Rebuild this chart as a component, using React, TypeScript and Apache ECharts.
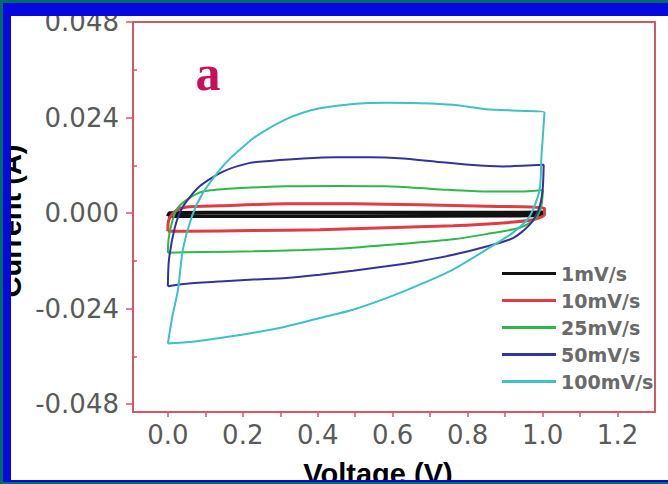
import React, { useEffect, useRef } from "react";
import * as echarts from "echarts";

// Scan rates (legend) and colours
const scanRates = ["1mV/s", "10mV/s", "25mV/s", "50mV/s", "100mV/s"];
const rateColors = ["#111111", "#e03c44", "#2eb84a", "#35329c", "#3cc2c4"];
const lineWidths = [3.5, 3, 2, 2, 2];

// Tick values
const xTickLabels = [0, 0.2, 0.4, 0.6, 0.8, 1.0, 1.2];
const xTickMarks = [0, 0.1, 0.2, 0.3, 0.4, 0.5, 0.6, 0.7, 0.8, 0.9, 1.0, 1.1, 1.2];
const yTickLabels = [-0.048, -0.024, 0, 0.024, 0.048];
const yMinorTicks = [-0.036, -0.012, 0.012, 0.036];

// 1 mV/s
const v1 = [0.0, 0.005, 0.1, 0.5, 0.9, 1.0, 1.0, 0.9, 0.5, 0.1, 0.0, 0.0];
const i1 = [-0.0008, 0.0, 0.0001, 0.0001, 0.0001, 0.0002, -0.0004, -0.0007, -0.0008, -0.0008, -0.0008, -0.0008];

// 10 mV/s
const v10 = [0.0, 0.002, 0.019, 0.05, 0.139, 0.316, 0.494, 0.672, 0.85, 1.005, 1.005, 0.974, 0.894, 0.761, 0.583, 0.405, 0.228, 0.05, 0.0];
const i10 = [-0.0046, -0.0019, 0.0004, 0.0015, 0.0018, 0.0023, 0.0023, 0.0021, 0.0017, 0.0012, -0.0004, -0.0017, -0.0025, -0.0032, -0.0037, -0.0042, -0.0044, -0.0046, -0.0046];

// 25 mV/s
const v25 = [0.0, 0.002, 0.01, 0.023, 0.05, 0.094, 0.183, 0.316, 0.45, 0.583, 0.716, 0.85, 0.939, 1.001, 0.996, 0.979, 0.939, 0.85, 0.761, 0.628, 0.494, 0.361, 0.228, 0.094, 0.0];
const i25 = [-0.01, -0.0065, -0.0027, 0.0008, 0.0033, 0.0054, 0.0062, 0.0067, 0.0068, 0.0067, 0.006, 0.0054, 0.0054, 0.0058, 0.0015, -0.0016, -0.0037, -0.0053, -0.0066, -0.0077, -0.0087, -0.0093, -0.0096, -0.0098, -0.01];

// 50 mV/s
const v50 = [0.0, 0.003, 0.019, 0.04, 0.085, 0.147, 0.219, 0.272, 0.361, 0.45, 0.539, 0.628, 0.716, 0.805, 0.894, 1.003, 1.0, 0.99, 0.965, 0.921, 0.85, 0.761, 0.672, 0.583, 0.494, 0.405, 0.316, 0.228, 0.139, 0.05, 0.0];
const i50 = [-0.0184, -0.0117, -0.0035, 0.0016, 0.0067, 0.0104, 0.0126, 0.0131, 0.0137, 0.014, 0.014, 0.0137, 0.0129, 0.0121, 0.0117, 0.0121, 0.0057, 0.001, -0.003, -0.0063, -0.0084, -0.0105, -0.0121, -0.0134, -0.0145, -0.0155, -0.0163, -0.0167, -0.0172, -0.0178, -0.0184];

// 100 mV/s
const v100 = [0.0, 0.012, 0.027, 0.04, 0.064, 0.093, 0.139, 0.165, 0.192, 0.228, 0.272, 0.316, 0.36, 0.405, 0.494, 0.583, 0.672, 0.761, 0.85, 0.939, 1.005, 0.997, 0.992, 0.965, 0.92, 0.85, 0.761, 0.672, 0.583, 0.494, 0.405, 0.316, 0.228, 0.139, 0.05, 0.0];
const i100 = [-0.0328, -0.026, -0.0193, -0.0092, -0.0009, 0.005, 0.0109, 0.0136, 0.0159, 0.0188, 0.0214, 0.0236, 0.0252, 0.0263, 0.0274, 0.0277, 0.0276, 0.0272, 0.0261, 0.0257, 0.0253, 0.0142, 0.0058, -0.0009, -0.005, -0.0092, -0.0142, -0.018, -0.0214, -0.0243, -0.0264, -0.0285, -0.0301, -0.0314, -0.0325, -0.0328];

const voltages = [v1, v10, v25, v50, v100];
const currents = [i1, i10, i25, i50, i100];

const axisRed = "#d4566a";
const labelGray = "#5a5a5a";

export default function App() {
  const ref = useRef<HTMLDivElement>(null);

  useEffect(() => {
    if (!ref.current) return;
    const chart = echarts.init(ref.current, undefined, { renderer: "svg" });

    const series = scanRates.map((name, k) => ({
      name,
      type: "line",
      data: voltages[k].map((v, j) => [v, currents[k][j]]),
      showSymbol: false,
      symbol: "none",
      smooth: 0.25,
      lineStyle: { color: rateColors[k], width: lineWidths[k] },
      itemStyle: { color: rateColors[k] },
      z: 2 + k,
    }));

    const frame = (x: number, y: number, w: number, h: number, fill: string) => ({
      type: "rect",
      shape: { x, y, width: w, height: h },
      style: { fill },
      z: 100,
      silent: true,
    });

    chart.setOption({
      animation: false,
      backgroundColor: "#ffffff",
      grid: {
        left: 133,
        right: 13,
        top: 22,
        bottom: 72,
        show: true,
        borderColor: axisRed,
        borderWidth: 2,
        backgroundColor: "transparent",
      },
      legend: {
        data: scanRates,
        orient: "vertical",
        left: 497,
        top: 259,
        itemGap: 8,
        icon: "rect",
        itemWidth: 54,
        itemHeight: 3,
        textStyle: {
          color: "#6a6a6a",
          fontWeight: "bold",
          fontSize: 19,
          fontFamily: "DejaVu Sans",
        },
      },
      xAxis: {
        type: "value",
        min: -0.093,
        max: 1.3,
        axisLine: { show: true, onZero: false, lineStyle: { color: axisRed, width: 2 } },
        axisTick: {
          show: true,
          inside: false,
          length: 5,
          customValues: xTickMarks,
          lineStyle: { color: axisRed, width: 1.5 },
        },
        axisLabel: {
          customValues: xTickLabels,
          formatter: (v: number) => v.toFixed(1),
          color: labelGray,
          fontSize: 26,
          fontFamily: "DejaVu Sans",
          margin: 10,
        },
        splitLine: { show: false },
      },
      yAxis: [
        {
          type: "value",
          min: -0.05,
          max: 0.048,
          axisLine: { show: true, onZero: false, lineStyle: { color: axisRed, width: 2 } },
          axisTick: {
            show: true,
            inside: false,
            length: 7,
            customValues: yTickLabels,
            lineStyle: { color: axisRed, width: 1.5 },
          },
          axisLabel: {
            customValues: yTickLabels,
            formatter: (v: number) => v.toFixed(3),
            color: labelGray,
            fontSize: 26,
            fontFamily: "DejaVu Sans",
            margin: 14,
          },
          splitLine: { show: false },
        },
        {
          type: "value",
          min: -0.05,
          max: 0.048,
          position: "left",
          axisLine: { show: false, onZero: false },
          axisTick: {
            show: true,
            inside: true,
            length: 4,
            customValues: yMinorTicks,
            lineStyle: { color: axisRed, width: 1.5 },
          },
          axisLabel: { show: false },
          splitLine: { show: false },
        },
      ],
      series,
      graphic: [
        {
          type: "text",
          x: 208,
          y: 73,
          z: 50,
          style: {
            text: "a",
            font: 'bold 50px "Liberation Serif"',
            fill: "#c8105a",
            align: "center",
            verticalAlign: "middle",
            textAlign: "center",
            textVerticalAlign: "middle",
          },
        },
        {
          type: "text",
          x: 25,
          y: 221,
          rotation: Math.PI / 2,
          z: 50,
          style: {
            text: "Current (A)",
            font: 'bold 29px "Liberation Sans"',
            fill: "#000000",
            align: "center",
            verticalAlign: "bottom",
            textAlign: "center",
            textVerticalAlign: "bottom",
          },
        },
        {
          type: "text",
          x: 378,
          y: 474,
          z: 50,
          style: {
            text: "Voltage (V)",
            font: 'bold 29px "Liberation Sans"',
            fill: "#000000",
            align: "center",
            verticalAlign: "middle",
            textAlign: "center",
            textVerticalAlign: "middle",
          },
        },
        frame(0, 0, 668, 16, "#0707e0"),
        frame(0, 0, 11, 484, "#0707e0"),
        frame(0, 480, 668, 4, "#0707e0"),
        frame(0, 0, 668, 3, "#006a6a"),
        frame(0, 0, 3, 484, "#006a6a"),
        frame(0, 482, 668, 2, "#006a6a"),
      ],
    });

    return () => chart.dispose();
  }, []);

  return (
    <div
      ref={ref}
      style={{ position: "absolute", left: 0, top: 0, width: 668, height: 484 }}
    />
  );
}
